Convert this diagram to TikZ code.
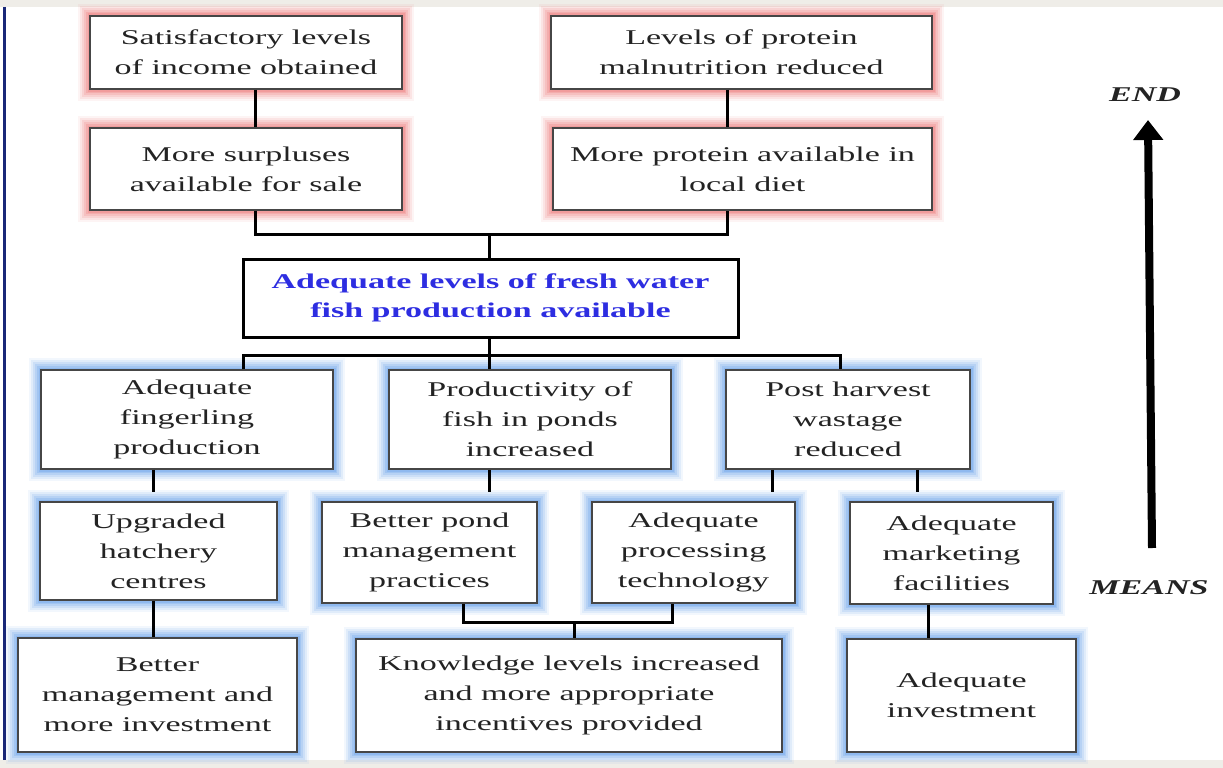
\documentclass[tikz,border=0pt]{standalone}
\usepackage{fontspec}
\setmainfont{Liberation Serif}[FakeStretch=1.62]
\usetikzlibrary{arrows.meta,calc}
\definecolor{txt}{RGB}{35,35,35}
\definecolor{bord}{RGB}{70,70,70}
\definecolor{glowred}{RGB}{238,120,120}
\definecolor{glowblue}{RGB}{100,160,235}
\definecolor{titleblue}{RGB}{45,45,225}
\definecolor{strip}{RGB}{239,237,232}
\definecolor{navy}{RGB}{25,40,120}
\tikzset{
  box/.style={draw=bord, line width=1.6pt, fill=white, text=txt, align=center,
    font=\fontsize{21}{30}\selectfont, inner sep=2pt},
  glow/.style={
    preaction={draw=#1, line width=24pt, draw opacity=0.08},
    preaction={draw=#1, line width=20pt, draw opacity=0.12},
    preaction={draw=#1, line width=16pt, draw opacity=0.16},
    preaction={draw=#1, line width=12pt, draw opacity=0.2},
    preaction={draw=#1, line width=8pt, draw opacity=0.25},
    preaction={draw=#1, line width=5pt, draw opacity=0.3}},
  redglow/.style={box, glow=glowred},
  blueglow/.style={box, glow=glowblue},
  mainbox/.style={draw=black, line width=3pt, fill=white, text=titleblue, align=center,
    font=\fontsize{21}{29}\selectfont\bfseries, inner sep=2pt},
  wire/.style={draw=black, line width=3pt},
  stub/.style={wire, shorten >=9pt},
  tag/.style={text=txt, font=\fontsize{21}{25}\selectfont\bfseries\itshape},
}
\begin{document}
\begin{tikzpicture}[x=1pt, y=-1pt]
\useasboundingbox (0,0) rectangle (1223,768);
\fill[white] (0,0) rectangle (1223,768);
\fill[strip] (0,0) rectangle (1223,7);
\fill[strip] (0,760) rectangle (1223,768);
\draw[navy, line width=3pt] (4.5,7) -- (4.5,760);

% top (ends)
\node[redglow, minimum width=312pt, minimum height=73pt] (A1) at (246,52.5) {Satisfactory levels\\of income obtained};
\node[redglow, minimum width=381pt, minimum height=73pt] (A2) at (741.5,52.5) {Levels of protein\\malnutrition reduced};
\node[redglow, minimum width=312pt, minimum height=82pt] (B1) at (246,169) {More surpluses\\available for sale};
\node[redglow, minimum width=379pt, minimum height=82pt] (B2) at (742.5,169) {More protein available in\\local diet};

% central
\node[mainbox, minimum width=495pt, minimum height=78pt] (C) at (490.5,298) {Adequate levels of fresh water\\fish production available};

% row 3
\node[blueglow, minimum width=292pt, minimum height=99pt] (D1) at (187,419.5) {Adequate\\fingerling\\production};
\node[blueglow, minimum width=282pt, minimum height=99pt] (D2) at (530,419.5) {Productivity of\\fish in ponds\\increased};
\node[blueglow, minimum width=244pt, minimum height=99pt] (D3) at (848,419.5) {Post harvest\\wastage\\reduced};

% row 4
\node[blueglow, minimum width=237pt, minimum height=98pt] (E1) at (158.5,551) {Upgraded\\hatchery\\centres};
\node[blueglow, minimum width=215pt, minimum height=101pt] (E2) at (429.5,552.5) {Better pond\\management\\practices};
\node[blueglow, minimum width=203pt, minimum height=101pt] (E3) at (693.5,552.5) {Adequate\\processing\\technology};
\node[blueglow, minimum width=203pt, minimum height=102pt] (E4) at (951.5,553) {Adequate\\marketing\\facilities};

% row 5 (means)
\node[blueglow, minimum width=279pt, minimum height=114pt] (F1) at (157.5,695) {Better\\management and\\more investment};
\node[blueglow, minimum width=426pt, minimum height=113pt] (F2) at (569,695.5) {Knowledge levels increased\\and more appropriate\\incentives provided};
\node[blueglow, minimum width=229pt, minimum height=113pt] (F3) at (961.5,695.5) {Adequate\\investment};

% connectors
\coordinate (bus1) at (489,234);
\coordinate (bus2) at (489,355);
\coordinate (bus3) at (574,622);
\draw[wire] ([xshift=9pt]A1.south) -- ([xshift=9pt]A1.south |- B1.north);
\draw[wire] ([xshift=-14.5pt]A2.south) -- ([xshift=-14.5pt]A2.south |- B2.north);
\draw[wire] ([xshift=9pt]B1.south) |- (bus1) -| ([xshift=-15.5pt]B2.south);
\draw[wire] (bus1) -- (bus1 |- C.north);
\draw[wire] (C.south -| bus2) -- (bus2);
\draw[wire] ([xshift=56pt]D1.north) |- (bus2) -| ([xshift=-8pt]D3.north);
\draw[wire] (bus2) -- (bus2 |- D2.north);
\draw[stub] ([xshift=-34pt]D1.south) -- ([xshift=-34pt]D1.south |- E1.north);
\draw[stub] (D2.south -| bus2) -- (bus2 |- E2.north);
\draw[stub] ([xshift=-76pt]D3.south) -- ([xshift=-76pt]D3.south |- E3.north);
\draw[stub] ([xshift=69pt]D3.south) -- ([xshift=69pt]D3.south |- E4.north);
\draw[wire] ([xshift=-5.5pt]E1.south) -- ([xshift=-5.5pt]E1.south |- F1.north);
\draw[wire] ([xshift=33.5pt]E2.south) |- (bus3) -| ([xshift=-21.5pt]E3.south);
\draw[wire] (bus3) -- (bus3 |- F2.north);
\draw[wire] ([xshift=-23.5pt]E4.south) -- ([xshift=-23.5pt]E4.south |- F3.north);

% end-means arrow
\node[tag] (endt) at (1145,95) {END};
\node[tag] (means) at (1149,588) {MEANS};
\coordinate (arrbot) at (1152,548);
\coordinate (arrtop) at (1148,120);
\draw[line width=8pt, -{Triangle[width=29pt,length=20pt]}] (arrbot) -- (arrtop);
\end{tikzpicture}
\end{document}
